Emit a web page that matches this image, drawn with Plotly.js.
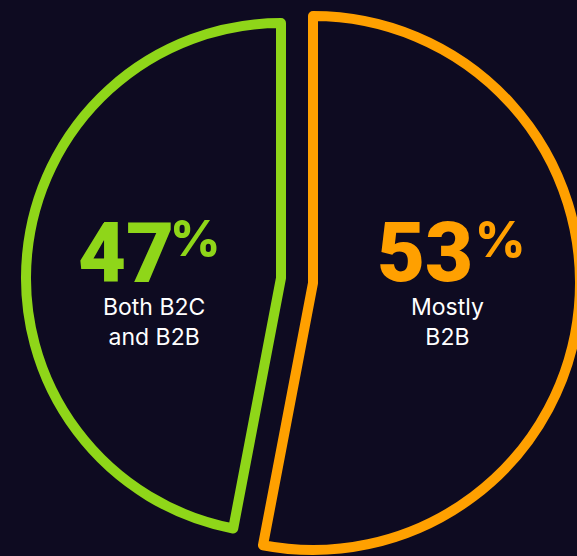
<!DOCTYPE html>
<html>
<head>
<meta charset="utf-8">
<script src="https://cdn.plot.ly/plotly-3.0.1.min.js"></script>
<style>
html,body{margin:0;padding:0;background:#0e0b21;overflow:hidden;width:577px;height:556px}
#chart{width:600px;height:556px}
</style>
</head>
<body>
<div id="chart"></div>
<script>
// ---- data ----
const categories = ['Both B2C and B2B', 'Mostly B2B'];
const shares = [47, 53];
const subLabels = ['Both B2C<br>and B2B', 'Mostly<br>B2B'];
const sliceColors = ['#8fd619', '#ffa000'];

// ---- layout helpers (pixels -> paper) ----
const W = 600, H = 556;
const BG = '#0e0b21';
// each slice drawn by its own trace so it can have its own centre / radius
const geom = [
  {cx: 281, cy: 278, r: 255},
  {cx: 313, cy: 283, r: 267}
];
const px = v => v / W;
const py = v => 1 - v / H;

// draw order: "Mostly B2B" clockwise from 12 o'clock, then "Both B2C and B2B"
const order = [1, 0];

const traces = categories.map((cat, i) => {
  const g = geom[i];
  return {
    type: 'pie',
    values: order.map(k => shares[k]),
    labels: order.map(k => categories[k]),
    sort: false,
    direction: 'clockwise',
    rotation: 0,
    textinfo: 'none',
    hoverinfo: 'none',
    showlegend: false,
    marker: {
      colors: order.map(() => 'rgba(0,0,0,0)'),
      line: {
        color: order.map(k => k === i ? sliceColors[i] : 'rgba(0,0,0,0)'),
        width: order.map(k => k === i ? 10 : 0)
      }
    },
    domain: {
      x: [(g.cx - g.r) / W, (g.cx + g.r) / W],
      y: [(H - g.cy - g.r) / H, (H - g.cy + g.r) / H]
    }
  };
});

const labelPos = [
  {num: [126, 253.5], pct: [195, 238.5], sub: [154, 322]},
  {num: [425, 252], pct: [500, 239.5], sub: [447, 322]}
];

const annotations = [];
categories.forEach((cat, i) => {
  const p = labelPos[i];
  annotations.push({
    xref: 'paper', yref: 'paper', x: px(p.num[0]), y: py(p.num[1]),
    xanchor: 'center', yanchor: 'middle', showarrow: false,
    text: String(shares[i]),
    font: {family: 'Roboto', size: 83, weight: 900, color: sliceColors[i]}
  });
  annotations.push({
    xref: 'paper', yref: 'paper', x: px(p.pct[0]), y: py(p.pct[1]),
    xanchor: 'center', yanchor: 'middle', showarrow: false,
    text: '%',
    font: {family: 'Inter', size: 49, weight: 800, color: sliceColors[i]}
  });
  annotations.push({
    xref: 'paper', yref: 'paper', x: px(p.sub[0]), y: py(p.sub[1]),
    xanchor: 'center', yanchor: 'middle', showarrow: false,
    text: subLabels[i],
    font: {family: 'Inter', size: 23, weight: 400, color: '#ffffff'}
  });
});

const layout = {
  width: W, height: H,
  margin: {l: 0, r: 0, t: 0, b: 0, pad: 0},
  paper_bgcolor: BG,
  plot_bgcolor: BG,
  showlegend: false,
  annotations: annotations
};

Plotly.newPlot('chart', traces, layout, {displayModeBar: false, staticPlot: true});
</script>
</body>
</html>
